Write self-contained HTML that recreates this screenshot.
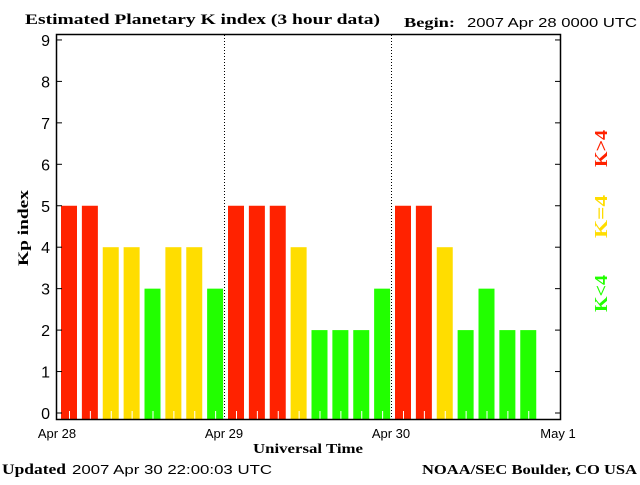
<!DOCTYPE html>
<html><head><meta charset="utf-8"><style>
body{margin:0;background:#fff}
svg text{font-family:"Liberation Sans",sans-serif}
.serif{font-family:"Liberation Serif",serif;font-weight:bold}
</style></head><body>
<svg id="c" width="640" height="480" xmlns="http://www.w3.org/2000/svg">
<text x="25" y="24" class="serif" font-size="15" textLength="355" lengthAdjust="spacingAndGlyphs">Estimated Planetary K index (3 hour data)</text>
<text x="404" y="27" class="serif" font-size="14" textLength="51" lengthAdjust="spacingAndGlyphs">Begin:</text>
<text x="467" y="27" font-size="13" textLength="170" lengthAdjust="spacingAndGlyphs">2007 Apr 28 0000 UTC</text>
<text x="2" y="474" class="serif" font-size="15" textLength="64" lengthAdjust="spacingAndGlyphs">Updated</text>
<text x="72" y="474" font-size="13" textLength="200" lengthAdjust="spacingAndGlyphs">2007 Apr 30 22:00:03 UTC</text>
<text x="422" y="474" class="serif" font-size="14" textLength="215" lengthAdjust="spacingAndGlyphs">NOAA/SEC Boulder, CO USA</text>
<text x="253" y="453" class="serif" font-size="14" textLength="110" lengthAdjust="spacingAndGlyphs">Universal Time</text>
<text transform="translate(28,266) rotate(-90)" class="serif" font-size="15" textLength="76" lengthAdjust="spacingAndGlyphs">Kp index</text>
<text transform="translate(607,167) rotate(-90)" class="serif" font-size="18" fill="#ff2200" textLength="37" lengthAdjust="spacingAndGlyphs">K&gt;4</text>
<text transform="translate(607,238) rotate(-90)" class="serif" font-size="18" fill="#ffdd00" textLength="43" lengthAdjust="spacingAndGlyphs">K=4</text>
<text transform="translate(607,312) rotate(-90)" class="serif" font-size="18" fill="#22ff00" textLength="37" lengthAdjust="spacingAndGlyphs">K&lt;4</text>
<g id="plot"></g>
</svg>
<script>
const kpValues=[5,5,4,4,3,4,4,3, 5,5,5,4,2,2,2,3, 5,5,4,2,3,2,2];
const yTicks=[0,1,2,3,4,5,6,7,8,9];
const dayLabels=["Apr 28","Apr 29","Apr 30","May 1"];
const NS="http://www.w3.org/2000/svg";
const L=57,R=560,T=35,B=419,dayW=167;
const y=v=>413-v*41.45;
const x=i=>L+i*(dayW/8);
const g=document.getElementById('plot');
function mk(t,a){const e=document.createElementNS(NS,t);for(const k in a)e.setAttribute(k,a[k]);g.appendChild(e);return e;}
kpValues.forEach((v,i)=>{
 const col=v>4?'#ff2200':(v==4?'#ffdd00':'#22ff00');
 const b=mk('rect',{x:x(i)+4,y:y(v),width:16,height:B-y(v),fill:col});
 
 
 const t=mk('line',{x1:x(i)+12.5,x2:x(i)+12.5,y1:411,y2:419,stroke:'#fff','stroke-width':1});
 
 
});
for(let d=1;d<3;d++){
 const s=mk('line',{x1:L+d*dayW+0.5,x2:L+d*dayW+0.5,y1:T,y2:B,stroke:'#000','stroke-dasharray':'1,2'});
 
 
}
const f=mk('rect',{x:L-0.5,y:T-0.5,width:R-L+1,height:B-T+1,fill:'none',stroke:'#000','stroke-width':1.5});


yTicks.forEach(v=>{
 mk('line',{x1:L,x2:L+5,y1:y(v),y2:y(v),stroke:'#000'});
 mk('line',{x1:R-5,x2:R,y1:y(v),y2:y(v),stroke:'#000'});
 const t=mk('text',{x:50,y:y(v)+6,'text-anchor':'end','font-size':16});
 t.textContent=v;
 
 
});
dayLabels.forEach((d,i)=>{
 const t=mk('text',{x:L+i*dayW,y:438,'text-anchor':'middle','font-size':13});
 t.textContent=d;
 
 
});
</script>
</body></html>
